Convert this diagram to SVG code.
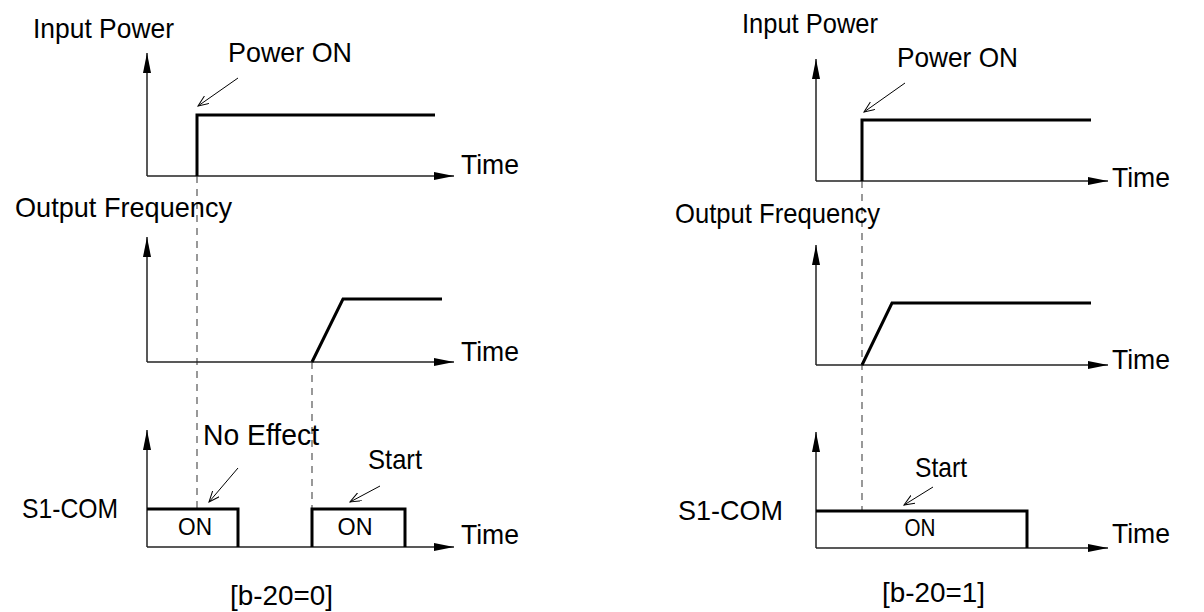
<svg xmlns="http://www.w3.org/2000/svg" width="1204" height="612" viewBox="0 0 1204 612">
<style>
text{font-family:"Liberation Sans",Arial,sans-serif;fill:#000}
.lbl{font-size:28px}
.on{font-size:24px}
.axis{stroke:#222;stroke-width:1.5;fill:none;marker-end:url(#ax)}
.sig{stroke:#000;stroke-width:3;fill:none;stroke-linejoin:miter}
.dash{stroke:#555;stroke-width:1.2;stroke-dasharray:7,6;fill:none}
.lead{stroke:#000;stroke-width:1;fill:none;marker-end:url(#op)}
</style>
<defs>
<marker id="ax" markerUnits="userSpaceOnUse" markerWidth="21" markerHeight="9" refX="20" refY="4" orient="auto">
<path d="M0,0 L20,4 L0,8 Z" fill="#000"/>
</marker>
<marker id="op" markerUnits="userSpaceOnUse" markerWidth="12" markerHeight="10" refX="11" refY="4.5" orient="auto">
<path d="M0,0 L11,4.5 L0,9" fill="none" stroke="#000" stroke-width="1"/>
</marker>
</defs>
<rect width="1204" height="612" fill="#fff"/>

<g id="connectors">
<line class="dash" x1="197" y1="176" x2="197" y2="509"/>
<line class="dash" x1="312" y1="362" x2="312" y2="509"/>
<line class="dash" x1="862" y1="181" x2="862" y2="511"/>
<line class="lead" x1="238" y1="78" x2="198" y2="106"/>
<line class="lead" x1="238" y1="468" x2="209" y2="502"/>
<line class="lead" x1="380" y1="486" x2="350" y2="502"/>
<line class="lead" x1="905" y1="83" x2="864" y2="112"/>
<line class="lead" x1="933" y1="487" x2="904" y2="505"/>
</g>

<g id="left-input-power">
<text class="lbl" x="33" y="38" textLength="141" lengthAdjust="spacingAndGlyphs">Input Power</text>
<path class="axis" d="M147,176 V53"/>
<path class="axis" d="M147,176 H454"/>
<path class="sig" d="M197,176 V115 H435"/>
<text class="lbl" x="228" y="62" textLength="124" lengthAdjust="spacingAndGlyphs">Power ON</text>
<text class="lbl" x="461" y="174" textLength="58" lengthAdjust="spacingAndGlyphs">Time</text>
</g>

<g id="left-output-frequency">
<text class="lbl" x="15" y="217" textLength="217" lengthAdjust="spacingAndGlyphs">Output Frequency</text>
<path class="axis" d="M147,362 V237"/>
<path class="axis" d="M147,362 H454"/>
<path class="sig" d="M312,362 L343,299 H442"/>
<text class="lbl" x="461" y="361" textLength="58" lengthAdjust="spacingAndGlyphs">Time</text>
</g>

<g id="left-s1com">
<text class="lbl" x="22" y="518" textLength="96" lengthAdjust="spacingAndGlyphs">S1-COM</text>
<path class="axis" d="M147,547 V430"/>
<path class="axis" d="M147,547 H454"/>
<path class="sig" d="M147,509 H238 V547"/>
<path class="sig" d="M312,547 V509 H405 V547"/>
<text class="on" x="195" y="535" text-anchor="middle" textLength="34" lengthAdjust="spacingAndGlyphs">ON</text>
<text class="on" x="355" y="535" text-anchor="middle" textLength="35" lengthAdjust="spacingAndGlyphs">ON</text>
<text class="lbl" x="203" y="445" textLength="116" lengthAdjust="spacingAndGlyphs" style="font-size:29px">No Effect</text>
<text class="lbl" x="368" y="469" textLength="54" lengthAdjust="spacingAndGlyphs">Start</text>
<text class="lbl" x="230" y="605" textLength="103" lengthAdjust="spacingAndGlyphs">[b-20=0]</text>
<text class="lbl" x="461" y="544" textLength="58" lengthAdjust="spacingAndGlyphs">Time</text>
</g>

<g id="right-input-power">
<text class="lbl" x="742" y="33" textLength="136" lengthAdjust="spacingAndGlyphs">Input Power</text>
<path class="axis" d="M816,181 V59"/>
<path class="axis" d="M816,181 H1108"/>
<path class="sig" d="M862,181 V120 H1091"/>
<text class="lbl" x="1112" y="187" textLength="58" lengthAdjust="spacingAndGlyphs">Time</text>
<text class="lbl" x="897" y="67" textLength="121" lengthAdjust="spacingAndGlyphs">Power ON</text>
</g>

<g id="right-output-frequency">
<text class="lbl" x="675" y="223" textLength="205" lengthAdjust="spacingAndGlyphs">Output Frequency</text>
<path class="axis" d="M816,365 V245"/>
<path class="axis" d="M816,365 H1108"/>
<path class="sig" d="M862,365 L892,303 H1091"/>
<text class="lbl" x="1112" y="369" textLength="58" lengthAdjust="spacingAndGlyphs">Time</text>
</g>

<g id="right-s1com">
<text class="lbl" x="678" y="520" textLength="105" lengthAdjust="spacingAndGlyphs">S1-COM</text>
<path class="axis" d="M816,548 V432"/>
<path class="axis" d="M816,548 H1108"/>
<path class="sig" d="M816,511 H1027 V548"/>
<text class="on" x="920" y="536" text-anchor="middle" textLength="31" lengthAdjust="spacingAndGlyphs">ON</text>
<text class="lbl" x="915" y="477" textLength="52" lengthAdjust="spacingAndGlyphs">Start</text>
<text class="lbl" x="882" y="602" textLength="103" lengthAdjust="spacingAndGlyphs">[b-20=1]</text>
<text class="lbl" x="1112" y="543" textLength="58" lengthAdjust="spacingAndGlyphs">Time</text>
</g>
</svg>
